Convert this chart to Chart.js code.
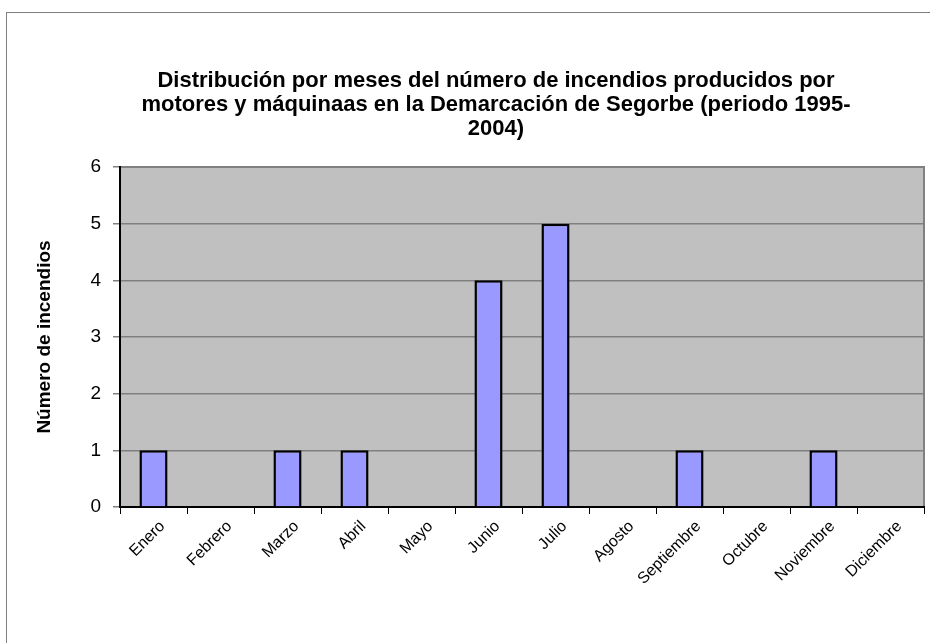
<!DOCTYPE html>
<html>
<head>
<meta charset="utf-8">
<script src="https://cdn.jsdelivr.net/npm/chart.js@4"></script>
<style>
  html, body { margin: 0; padding: 0; background: #fff; }
  #wrap { width: 930px; height: 643px; }
</style>
</head>
<body>
<div id="wrap"><canvas id="chart" width="930" height="643"></canvas></div>
<script>
// datos del grafico
const meses = ['Enero', 'Febrero', 'Marzo', 'Abril', 'Mayo', 'Junio', 'Julio',
               'Agosto', 'Septiembre', 'Octubre', 'Noviembre', 'Diciembre'];
const incendios = [1, 0, 1, 1, 0, 4, 5, 0, 1, 0, 1, 0];
const titulo = ['Distribución por meses del número de incendios producidos por',
                'motores y máquinaas en la Demarcación de Segorbe (periodo 1995-',
                '2004)'];
const tituloEje = 'Número de incendios';
const FONT = 'Arial, "Liberation Sans", sans-serif';

// fondo gris del area de trazado, marco exterior y titulo
const fondo = {
    id: 'fondo',
    beforeDraw(chart) {
        const { ctx, chartArea: a } = chart;
        ctx.save();
        ctx.fillStyle = '#fff';
        ctx.fillRect(0, 0, chart.width, chart.height);
        ctx.strokeStyle = '#808080';
        ctx.lineWidth = 1;
        ctx.strokeRect(6.5, 12.5, 1000, 1000);
        ctx.fillStyle = '#C0C0C0';
        ctx.fillRect(a.left, a.top, a.right - a.left, a.bottom - a.top);
        ctx.lineWidth = 2;
        ctx.strokeStyle = '#808080';
        ctx.strokeRect(a.left, a.top, a.right - a.left, a.bottom - a.top);
        ctx.restore();
    },
    afterDraw(chart) {
        const ctx = chart.ctx;
        ctx.save();
        ctx.fillStyle = '#000';
        ctx.font = 'bold 22px ' + FONT;
        ctx.textAlign = 'center';
        ctx.textBaseline = 'middle';
        titulo.forEach((t, i) => ctx.fillText(t, 496, 81 + i * 24));
        ctx.restore();
    }
};

new Chart(document.getElementById('chart'), {
    type: 'bar',
    data: {
        labels: meses,
        datasets: [{
            data: incendios,
            backgroundColor: '#9999FF',
            borderColor: '#000',
            borderWidth: 2.5,
            barPercentage: 0.42,
            categoryPercentage: 1
        }]
    },
    options: {
        responsive: false,
        animation: false,
        layout: { padding: { top: 167, right: 6, bottom: 0, left: 0 } },
        plugins: {
            legend: { display: false },
            tooltip: { enabled: false },
            title: { display: false }
        },
        scales: {
            x: {
                afterFit: s => { s.height = 136; },
                grid: { offset: true, drawOnChartArea: false, tickLength: 7, tickColor: '#000', lineWidth: 1 },
                border: { color: '#000', width: 2 },
                ticks: {
                    color: '#000',
                    font: { family: FONT, size: 16 },
                    minRotation: 45, maxRotation: 45,
                    padding: 3,
                    labelOffset: 9,
                    autoSkip: false
                }
            },
            y: {
                min: 0, max: 6,
                afterFit: s => { s.width = 120; },
                grid: { color: '#808080', tickColor: '#808080', tickLength: 7, lineWidth: 1.5 },
                border: { color: '#000', width: 2 },
                ticks: {
                    stepSize: 1,
                    color: '#000',
                    padding: 12,
                    font: { family: FONT, size: 19 }
                },
                title: {
                    display: true,
                    text: tituloEje,
                    color: '#000',
                    font: { family: FONT, size: 19, weight: 'bold' },
                    padding: { top: 33, bottom: 0 }
                }
            }
        }
    },
    plugins: [fondo]
});
</script>
</body>
</html>
